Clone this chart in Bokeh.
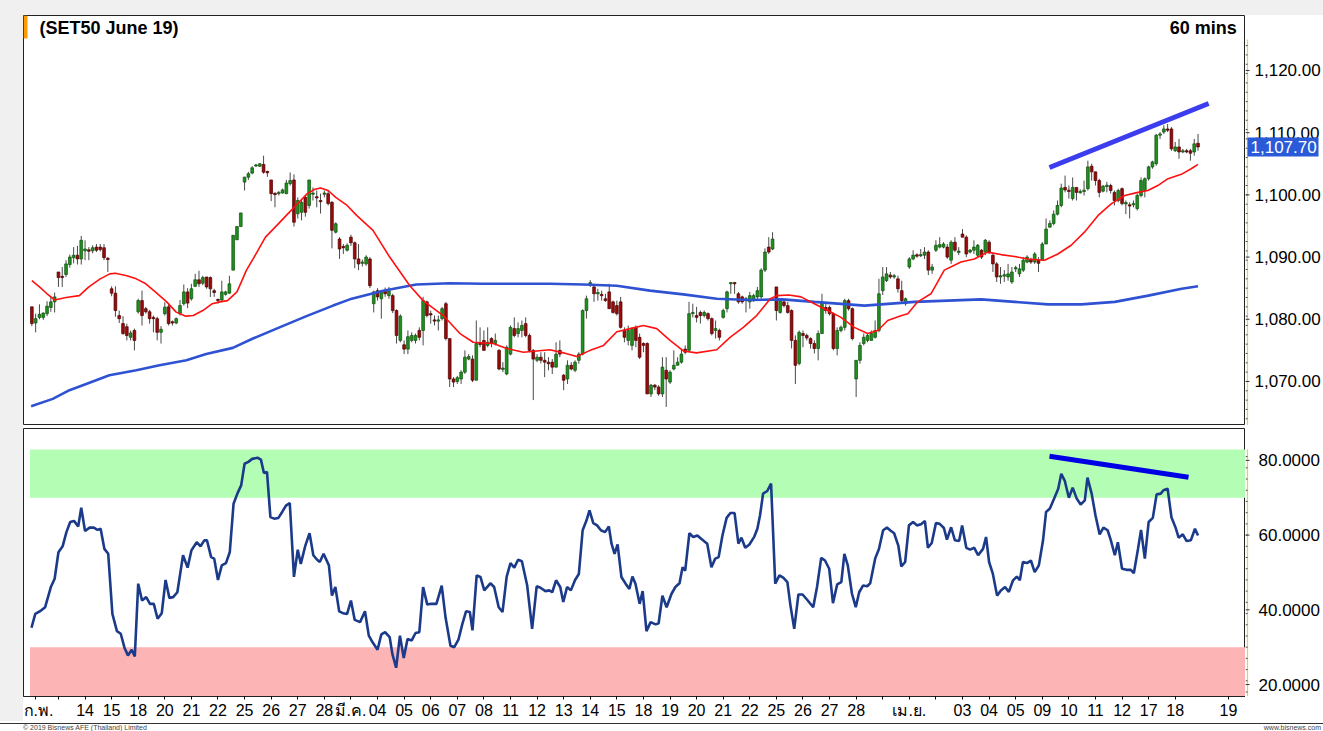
from bokeh.plotting import figure
from bokeh.models import Range1d, FixedTicker, Label, Div
from bokeh.layouts import column, row
from bokeh.embed import file_html
from bokeh.resources import INLINE
from bokeh.core.properties import value

FONT = "Liberation Sans"

# ---------------- data (60-min bars, SET50 June 19 futures) ----------------
opens = [1082.0,1079.4,1080.3,1080.3,1080.9,1081.9,1082.8,1087.6,1086.9,1087.2,1088.8,1089.9,1090.3,1089.7,
1091.0,1091.1,1091.0,1091.6,1091.6,1091.5,1089.8,1084.9,1084.2,1080.6,1079.3,1078.8,1077.1,1078.2,
1081.2,1083.0,1081.7,1081.2,1080.3,1080.1,1077.9,1080.9,1082.0,1079.6,1079.4,1080.9,1082.5,1084.4,
1083.3,1085.3,1086.35,1085.8,1086.8,1086.7,1084.6,1083.2,1083.1,1084.0,1084.2,1087.9,1092.8,1094.9,
1102.05,1102.85,1103.5,1104.7,1104.6,1104.9,1103.7,1102.4,1100.2,1100.2,1100.3,1100.2,1101.8,1102.4,
1096.96,1097.2,1099.6,1098.3,1100.1,1099.7,1099.1,1100.1,1100.2,1098.8,1094.0,1092.9,1091.7,1091.1,
1093.2,1092.3,1089.7,1089.0,1088.9,1089.7,1082.5,1084.6,1083.3,1084.6,1083.8,1083.8,1081.4,1076.6,
1075.9,1075.2,1076.6,1076.6,1078.2,1078.2,1082.8,1080.9,1079.9,1079.7,1080.1,1082.5,1076.9,1070.4,
1070.0,1070.4,1071.5,1073.6,1073.6,1070.2,1076.1,1076.6,1075.8,1076.9,1076.1,1075.0,1072.0,1071.2,
1074.4,1078.5,1077.7,1078.2,1079.3,1077.4,1075.0,1073.4,1073.9,1073.4,1073.1,1073.1,1072.3,1075.0,
1071.0,1070.4,1072.6,1071.8,1073.4,1074.4,1081.4,1085.7,1085.2,1084.1,1084.0,1083.3,1084.4,1082.8,
1082.2,1082.8,1078.2,1076.6,1075.8,1078.7,1077.1,1076.1,1076.1,1068.0,1069.4,1069.1,1068.0,1071.8,
1069.9,1072.0,1072.6,1073.1,1075.2,1075.0,1080.9,1080.6,1081.1,1080.6,1080.9,1080.1,1078.2,1078.2,
1080.3,1081.7,1085.7,1085.9,1084.1,1083.6,1083.0,1082.8,1083.0,1083.6,1083.6,1087.9,1091.6,1091.3,
1085.2,1081.1,1082.8,1082.2,1081.4,1076.6,1072.9,1077.7,1077.4,1076.9,1076.1,1075.3,1077.7,1081.9,
1081.9,1080.9,1075.3,1078.2,1078.7,1083.0,1081.7,1070.4,1073.4,1076.1,1076.6,1076.6,1077.1,1078.2,
1084.6,1086.2,1087.1,1086.8,1086.5,1084.6,1082.5,1088.4,1089.7,1090.3,1090.2,1090.3,1090.8,1087.9,
1091.1,1091.6,1091.6,1091.6,1089.5,1092.4,1090.8,1093.7,1093.2,1090.8,1091.1,1090.3,1091.1,1090.8,
1092.4,1090.3,1088.9,1086.8,1087.0,1086.8,1086.0,1088.1,1087.3,1087.9,1089.2,1089.6,1089.2,1089.5,
1089.5,1092.1,1094.8,1095.4,1096.9,1098.3,1101.2,1100.7,1099.4,1101.2,1100.4,1100.6,1101.0,1104.6,
1103.7,1102.3,1100.6,1101.4,1101.5,1100.4,1099.1,1101.0,1098.6,1098.4,1098.4,1097.8,1099.9,1100.7,
1102.6,1104.5,1105.0,1109.6,1110.1,1110.6,1110.6,1107.1,1107.7,1106.9,1107.1,1107.1,1106.9,1108.3]
highs = [1082.0,1080.9,1082.4,1081.1,1082.9,1083.6,1084.3,1087.6,1088.4,1089.5,1090.4,1091.6,1091.8,1093.4,
1092.7,1091.6,1091.9,1092.1,1092.1,1092.1,1090.0,1085.3,1085.3,1081.4,1080.5,1079.3,1078.2,1078.5,
1083.3,1084.6,1082.0,1081.5,1080.6,1080.4,1078.9,1082.75,1082.5,1079.8,1080.3,1083.1,1085.6,1085.0,
1085.7,1087.3,1087.8,1087.0,1086.8,1086.9,1084.9,1083.3,1086.2,1084.6,1087.0,1093.5,1095.0,1097.1,
1102.9,1103.7,1104.6,1105.0,1105.1,1106.3,1103.9,1102.4,1100.4,1100.6,1101.0,1102.4,1103.6,1103.3,
1099.6,1099.3,1100.0,1102.4,1101.2,1100.7,1100.2,1100.7,1100.7,1099.0,1095.6,1093.2,1092.1,1092.2,
1093.6,1092.5,1092.1,1089.6,1090.3,1090.0,1084.6,1085.0,1084.6,1085.1,1085.2,1084.1,1081.6,1080.8,
1076.6,1078.2,1077.9,1077.7,1078.7,1083.6,1083.0,1081.4,1080.6,1080.6,1082.0,1082.8,1076.9,1070.7,
1070.9,1071.8,1075.0,1074.4,1074.2,1079.8,1078.7,1078.2,1078.7,1077.1,1077.7,1075.2,1073.1,1075.8,
1079.0,1080.3,1079.5,1079.8,1080.3,1077.7,1075.2,1074.4,1074.7,1074.7,1073.9,1073.6,1076.3,1076.6,
1071.2,1073.4,1073.1,1073.4,1074.7,1081.6,1083.8,1086.3,1085.7,1084.9,1084.6,1084.1,1085.7,1083.0,
1083.0,1083.6,1078.7,1079.0,1078.7,1079.0,1077.7,1076.3,1076.3,1069.6,1069.6,1069.4,1073.9,1073.9,
1071.8,1075.0,1073.9,1075.2,1075.8,1082.8,1082.5,1082.0,1081.4,1081.4,1081.1,1080.3,1079.8,1078.5,
1081.7,1084.6,1086.0,1086.0,1084.4,1083.8,1083.6,1084.4,1084.1,1085.2,1088.2,1091.4,1093.2,1094.0,
1085.2,1083.3,1083.0,1082.8,1081.6,1077.4,1078.2,1078.2,1077.7,1077.1,1076.6,1078.2,1084.1,1082.5,
1082.2,1081.1,1078.7,1079.0,1083.3,1083.3,1081.9,1073.4,1076.3,1077.7,1077.7,1078.2,1079.8,1086.5,
1088.4,1088.4,1087.6,1087.3,1087.0,1086.2,1083.5,1090.0,1091.1,1090.6,1091.3,1091.6,1091.1,1088.9,
1092.7,1093.2,1092.4,1092.1,1092.7,1093.2,1091.6,1094.5,1093.5,1091.3,1092.7,1092.1,1091.3,1092.9,
1092.7,1090.5,1089.2,1088.4,1087.9,1088.9,1088.4,1088.6,1088.9,1090.0,1090.3,1089.9,1090.8,1090.0,
1092.4,1096.2,1095.9,1097.5,1099.1,1101.8,1103.1,1101.5,1102.8,1101.2,1100.9,1102.3,1105.5,1105.0,
1103.7,1102.6,1101.6,1102.1,1101.8,1100.7,1101.0,1101.2,1099.1,1098.8,1099.1,1100.2,1102.8,1102.8,
1104.7,1105.5,1109.8,1110.1,1111.2,1111.4,1110.9,1108.5,1109.0,1107.4,1107.4,1107.4,1109.0,1109.8]
lows = [1078.9,1077.9,1080.0,1079.9,1080.5,1081.2,1081.1,1085.2,1085.2,1086.8,1088.3,1089.0,1088.8,1088.8,
1089.5,1089.5,1090.6,1090.8,1090.9,1089.5,1087.6,1083.7,1080.4,1079.4,1077.5,1076.6,1076.6,1075.0,
1080.9,1079.0,1080.9,1079.3,1077.9,1076.6,1076.1,1080.6,1079.0,1079.0,1079.2,1080.6,1082.2,1081.8,
1083.0,1085.2,1085.2,1085.5,1084.9,1083.6,1083.6,1082.5,1082.9,1083.8,1084.1,1087.9,1092.7,1094.9,
1100.7,1102.4,1103.3,1104.5,1104.5,1103.4,1102.9,1099.0,1098.0,1099.9,1100.2,1100.1,1101.5,1094.9,
1096.2,1095.9,1096.5,1097.8,1099.1,1098.0,1097.0,1099.6,1098.3,1091.4,1093.8,1089.7,1090.5,1090.9,
1091.8,1088.2,1087.9,1088.5,1088.6,1085.0,1081.1,1083.0,1080.1,1083.6,1083.3,1081.0,1076.1,1076.3,
1074.4,1074.4,1076.3,1076.1,1076.6,1075.8,1080.3,1079.3,1079.0,1078.2,1079.8,1076.6,1069.1,1069.1,
1069.6,1069.6,1071.2,1073.4,1069.9,1070.2,1075.5,1075.0,1075.5,1075.5,1075.8,1071.8,1071.5,1071.0,
1074.2,1077.1,1077.1,1077.1,1077.1,1074.7,1067.0,1073.1,1072.9,1070.7,1071.8,1071.2,1072.3,1073.9,
1068.6,1069.6,1071.8,1071.5,1072.85,1074.2,1080.1,1085.2,1082.8,1083.0,1083.0,1082.8,1081.7,1080.9,
1080.6,1078.5,1076.3,1075.8,1075.0,1075.5,1073.6,1074.7,1068.0,1067.5,1068.6,1067.7,1067.5,1065.9,
1069.6,1071.8,1072.6,1072.85,1074.4,1075.0,1080.3,1079.5,1079.3,1080.3,1079.8,1077.4,1076.9,1076.6,
1080.1,1081.1,1084.1,1084.1,1082.5,1082.5,1081.1,1081.7,1082.8,1083.0,1083.3,1087.6,1090.5,1091.1,
1079.8,1080.9,1081.9,1080.9,1075.3,1069.6,1072.6,1075.5,1076.6,1075.3,1074.5,1073.4,1077.7,1080.9,
1080.6,1075.0,1074.2,1077.9,1078.2,1081.4,1076.6,1067.5,1072.85,1075.8,1076.3,1076.6,1076.9,1077.9,
1083.9,1086.0,1086.5,1086.5,1084.3,1082.5,1082.2,1088.1,1089.5,1089.9,1090.0,1089.7,1087.1,1087.3,
1090.8,1091.4,1091.4,1089.7,1088.9,1090.8,1090.3,1093.2,1090.0,1090.6,1090.5,1090.0,1089.7,1090.3,
1090.5,1087.6,1086.0,1085.7,1086.0,1086.2,1085.7,1087.6,1086.8,1087.6,1089.0,1088.9,1088.9,1087.6,
1089.5,1092.1,1094.8,1095.1,1096.7,1098.0,1100.4,1099.4,1099.1,1099.1,1100.2,1099.9,1100.7,1102.3,
1101.5,1099.6,1100.4,1100.4,1100.2,1098.3,1098.8,1098.3,1096.9,1096.2,1098.0,1097.5,1099.6,1099.6,
1102.3,1104.2,1104.7,1109.0,1109.8,1110.1,1107.1,1106.9,1105.8,1106.7,1106.7,1105.5,1106.3,1107.1]
closes = [1079.3,1080.1,1080.8,1081.0,1082.1,1082.8,1083.6,1086.7,1086.7,1088.9,1090.0,1090.3,1089.7,1092.7,
1091.3,1091.0,1091.5,1091.1,1091.2,1089.9,1089.6,1084.2,1081.4,1080.1,1077.7,1077.4,1077.8,1076.6,
1083.0,1080.6,1081.2,1080.1,1080.1,1077.9,1078.4,1081.95,1079.3,1079.4,1080.1,1082.2,1084.4,1082.6,
1084.9,1086.35,1085.7,1086.7,1085.2,1084.9,1084.3,1083.0,1084.4,1084.4,1085.7,1093.5,1094.9,1097.1,
1102.85,1103.4,1104.35,1104.75,1105.0,1103.65,1103.6,1100.2,1100.1,1100.4,1100.8,1101.9,1102.3,1095.6,
1099.1,1098.8,1097.2,1102.4,1100.3,1099.5,1098.9,1100.3,1098.6,1094.3,1095.35,1091.3,1091.5,1091.9,
1092.3,1089.7,1088.9,1089.2,1090.0,1085.4,1084.4,1083.6,1084.4,1084.1,1084.5,1081.4,1077.4,1080.5,
1075.2,1077.2,1077.4,1077.4,1077.1,1083.0,1080.6,1080.7,1079.7,1079.9,1081.7,1076.9,1070.4,1069.9,
1070.6,1071.5,1073.9,1074.0,1070.2,1076.1,1076.0,1075.0,1076.3,1076.1,1076.6,1072.0,1072.1,1075.5,
1078.7,1077.4,1078.5,1079.0,1077.4,1075.0,1073.6,1073.9,1073.4,1073.1,1072.85,1072.3,1074.4,1074.4,
1070.2,1072.6,1072.0,1073.1,1074.4,1081.4,1083.3,1085.9,1084.1,1084.3,1083.8,1083.0,1081.7,1081.1,
1080.9,1078.7,1077.1,1078.2,1078.5,1076.6,1073.9,1075.8,1068.0,1069.4,1069.1,1068.0,1072.3,1070.4,
1071.5,1072.6,1073.1,1074.4,1074.7,1080.9,1081.1,1080.3,1080.6,1081.1,1080.1,1077.7,1078.5,1077.1,
1081.4,1084.4,1085.9,1085.7,1082.8,1082.8,1083.3,1083.8,1083.8,1084.6,1087.9,1090.8,1090.8,1092.9,
1081.4,1083.0,1082.2,1081.1,1076.6,1072.6,1077.9,1077.4,1077.0,1076.1,1075.3,1077.7,1082.8,1081.4,
1080.9,1075.3,1078.2,1078.7,1083.0,1081.7,1076.9,1073.4,1075.8,1077.1,1077.4,1077.7,1078.2,1084.1,
1086.8,1087.3,1086.8,1087.0,1084.9,1083.0,1083.3,1089.7,1090.3,1090.2,1090.4,1090.8,1087.9,1088.4,
1091.9,1092.0,1092.1,1090.0,1092.4,1091.1,1090.9,1093.2,1090.5,1091.1,1091.6,1091.9,1090.0,1092.7,
1090.8,1088.9,1086.8,1087.0,1087.1,1087.3,1087.6,1088.3,1088.1,1089.5,1090.0,1089.2,1090.5,1089.0,
1092.1,1094.5,1095.4,1096.9,1098.3,1101.1,1100.8,1100.6,1101.2,1100.4,1100.5,1100.7,1104.5,1103.7,
1102.3,1100.4,1101.4,1101.5,1100.7,1099.1,1100.7,1098.6,1098.7,1098.2,1098.6,1099.9,1102.3,1102.6,
1104.5,1105.3,1109.6,1109.8,1110.6,1110.4,1107.4,1107.7,1106.9,1107.1,1106.9,1106.7,1108.2,1107.7]

# moving averages (bar position, value)
ma_fast_x = [0,2,4,6,9,12.5,15,18,20.5,22,25,27.5,30,32.5,35.5,38,40.5,42.5,45,47.5,49.5,51.5,54,56.5,59,61.5,
             64.5,67,69.5,72.5,74.5,76,78,80,83,85.5,89.8,94.2,99.5,103,108.3,112.7,116.2,121.5,125,129.4,132.9,
             136.4,139.9,143.4,147,150.5,154,157.5,161,164.5,168,171.5,175,180.3,183.8,187.3,190.8,194.4,196.1,
             199.3,202.5,206,209.5,213,216.5,220,222.7,225.3,229,230.6,233.2,236.7,240.2,244.6,248.1,251.6,255.1,
             258.7,262.2,266.6,270.1,273.6,277.1,280.7,284.2,287.7,291.2,293.8,296.4,299.1,302.6,305.2,307]
ma_fast_v = [1086.2,1085.2,1084.1,1083.1,1083.5,1083.8,1085.2,1086.5,1087.3,1087.4,1087.0,1086.5,1085.7,1084.4,
             1082.8,1081.15,1080.5,1080.6,1081.4,1082.5,1082.8,1083.0,1084.4,1087.9,1090.5,1093.2,1095.1,1096.7,
             1098.3,1100.2,1100.9,1101.1,1100.7,1099.6,1098.3,1096.7,1094.3,1090.0,1085.4,1083.0,1080.6,1077.7,
             1076.3,1076.1,1075.3,1074.7,1074.9,1075.1,1074.6,1074.0,1075.0,1075.8,1078.0,1078.5,1079.0,1078.5,
             1076.6,1074.9,1074.6,1075.1,1077.1,1078.7,1080.6,1083.3,1083.8,1083.9,1083.6,1082.5,1081.4,1080.3,
             1078.7,1077.7,1078.2,1079.8,1080.6,1080.9,1082.8,1084.1,1087.9,1089.2,1089.7,1090.8,1090.4,1090.1,
             1089.7,1089.5,1090.5,1091.9,1094.0,1096.7,1098.6,1099.9,1100.4,1100.7,1101.5,1102.6,1103.3,1104.2,1104.9]
ma_slow_x = [-0.2,5.5,9.9,14.3,20.4,27.5,33.6,40.7,45.9,52.9,58.2,65.2,72.3,79.3,83.7,92.5,101.2,110,118.8,127.5,
             136.4,145.2,154,162.7,171.5,180.3,189.1,197.5,206,219.2,232.4,249.9,258.7,267.5,276.3,285.1,293.9,302.7,307]
ma_slow_v = [1066.0,1067.2,1068.6,1069.6,1071.0,1071.8,1072.6,1073.4,1074.4,1075.4,1076.9,1078.7,1080.5,1082.2,
             1083.2,1084.6,1085.6,1085.8,1085.7,1085.7,1085.7,1085.6,1085.4,1084.6,1084.0,1083.3,1083.1,1083.2,
             1082.8,1082.2,1082.8,1083.2,1082.8,1082.4,1082.4,1082.8,1083.8,1084.9,1085.3]

rsi_x = [-0.1,0.9,2.4,3.5,5.0,6.0,7.0,8.1,9.1,10.1,11.1,12.2,13.0,14.0,15.2,16.3,17.3,18.1,19.1,20.1,21.2,22.4,23.4,
         24.4,25.3,26.3,27.1,28.0,29.0,30.1,31.1,32.1,33.1,34.2,35.2,36.2,37.2,38.3,39.8,41.0,42.0,43.4,44.4,45.4,
         46.1,47.2,48.0,49.0,50.0,51.1,52.1,53.1,54.1,55.1,56.0,57.0,58.0,59.4,60.3,61.1,61.9,62.8,63.8,64.9,65.9,
         66.9,67.9,69.0,70.0,70.8,72.0,73.1,74.1,75.1,75.8,76.8,78.2,79.0,79.9,80.9,81.9,83.0,84.0,85.0,86.4,87.7,
         88.7,89.7,91.0,92.0,93.0,94.2,94.9,95.9,96.9,97.9,98.9,100.0,101.0,102.0,103.0,104.1,105.1,106.5,107.9,
         108.9,110.2,111.2,112.3,113.3,114.3,115.3,116.0,117.1,118.1,119.1,120.7,121.7,122.9,123.9,125.0,126.0,
         127.0,128.0,129.0,130.4,131.7,132.9,133.9,135.2,136.2,137.0,138.0,139.1,139.9,140.9,141.9,143.0,144.0,
         145.0,146.0,146.8,147.8,148.8,149.8,150.9,151.9,152.6,153.4,154.2,155.2,156.3,157.3,158.1,158.9,160.0,
         160.8,161.8,162.9,164.2,165.0,166.0,167.1,168.4,169.4,170.5,171.3,172.0,173.1,174.1,175.2,176.2,177.8,
         178.9,179.9,180.8,181.8,182.9,183.9,185.0,186.0,186.8,187.8,188.9,190.2,191.0,191.7,192.5,193.6,194.6,
         195.7,196.8,197.8,198.9,199.7,200.7,201.8,202.9,204.1,205.7,206.7,207.8,208.8,209.9,210.9,212.0,213.1,
         213.9,214.8,215.9,216.9,217.8,218.8,219.9,220.7,222.0,223.0,224.1,225.1,226.2,227.0,228.1,228.9,229.9,
         230.9,232.0,233.0,234.1,235.1,235.9,236.9,238.0,239.0,240.1,240.9,242.0,243.0,244.1,244.9,246.0,247.0,
         248.1,249.1,250.4,251.2,252.0,253.0,254.1,255.1,256.2,257.2,258.3,259.3,260.1,260.9,262.0,263.0,264.0,
         265.1,266.2,267.0,268.0,269.1,270.2,271.0,271.9,273.0,274.0,275.1,276.1,277.2,277.9,279.0,280.0,281.1,
         282.1,283.2,284.0,285.1,285.9,287.0,288.2,289.3,290.1,291.2,292.0,293.0,294.0,295.1,296.1,297.2,297.9,
         299.0,300.0,301.1,301.9,303.0,304.0,305.1,306.2,307.0]
rsi_v = [35.2,38.9,39.8,40.7,46.1,48.3,55.4,57.0,60.8,63.5,63.8,62.3,67.3,61.1,62.0,62.0,61.4,61.7,56.3,55.0,38.9,34.3,
         33.6,29.8,27.8,29.3,27.5,47.0,42.5,43.4,41.6,41.6,37.6,39.1,48.0,43.2,43.4,44.7,54.6,51.3,55.9,58.1,57.0,58.6,
         58.6,54.1,53.7,48.0,51.9,52.5,55.4,68.4,71.1,73.3,79.1,79.6,80.4,80.7,80.2,76.6,76.9,64.8,64.4,64.6,66.2,
         67.9,68.6,48.8,56.1,52.3,57.2,60.5,54.6,53.4,52.8,55.0,51.9,43.8,46.1,39.6,39.1,38.9,42.5,37.3,36.7,39.6,
         33.1,31.3,29.3,33.4,34.0,32.7,28.2,24.5,33.1,27.1,32.2,31.8,33.8,34.0,46.1,41.4,41.6,41.6,46.5,38.0,30.4,
         30.0,32.0,36.1,39.6,39.4,34.5,49.2,48.8,45.2,47.1,46.1,40.7,39.4,48.9,52.5,51.3,53.4,53.0,46.5,34.9,46.3,
         45.9,45.0,45.2,44.7,47.9,46.1,42.1,46.1,45.2,48.0,49.6,61.3,63.9,66.6,63.2,62.6,61.3,60.8,62.3,57.7,55.0,
         57.5,48.8,47.0,45.6,48.9,47.0,41.6,45.0,34.3,36.7,36.1,36.4,43.8,40.7,44.3,46.1,47.1,51.4,50.5,60.5,59.5,
         59.9,59.0,57.7,51.4,53.7,54.1,59.9,64.6,65.9,65.9,57.7,59.3,56.6,57.5,59.6,61.7,65.3,71.1,71.8,73.8,47.0,
         49.2,48.6,47.4,41.2,34.9,44.1,44.1,42.7,40.7,46.1,53.9,53.2,51.0,41.8,46.8,47.4,55.0,51.9,44.3,40.7,44.7,
         46.5,46.3,47.1,53.7,56.3,61.3,62.0,61.1,60.5,57.2,51.6,52.8,62.6,63.5,62.6,62.9,63.8,56.6,57.9,63.2,63.0,
         61.9,58.8,62.1,58.6,58.4,62.6,56.6,56.1,56.6,54.6,56.3,59.5,52.8,49.6,43.8,45.2,46.1,44.8,47.9,48.9,47.9,
         52.8,52.5,53.2,50.1,51.9,58.6,66.2,67.1,69.7,72.4,76.4,74.6,70.0,72.7,69.7,68.2,69.3,75.4,71.1,65.3,60.2,
         62.0,61.3,58.8,54.6,58.1,51.0,50.7,50.7,49.8,56.3,61.4,53.7,63.5,64.6,70.9,71.1,72.0,72.4,64.8,62.0,59.3,
         60.2,58.4,58.6,61.7,59.9]

# date axis: first bar of each trading day
tick_pos = [1, 7, 14, 21, 28, 35, 42, 49, 56, 63, 70, 77, 84, 91, 98, 105, 112, 119, 126, 133, 140, 147, 154,
            161, 168, 175, 182, 189, 196, 203, 210, 217, 224, 231, 238, 245, 252, 259, 266, 273, 280, 287, 294,
            301, 315]
tick_labels = ["ก.พ.", "", "14", "15", "18", "20", "21", "22", "25", "26", "27", "28", "มี.ค.", "04", "05", "06",
               "07", "08", "11", "12", "13", "14", "15", "18", "19", "20", "21", "22", "25", "26", "27", "28", "",
               "เม.ย.", "", "03", "04", "05", "09", "10", "11", "12", "17", "18", "19"]

price_ticks = [1070, 1080, 1090, 1100, 1110, 1120]
rsi_ticks = [20, 40, 60, 80]
overbought_zone = [70, 82.9]
oversold_zone = [16.8, 30]
last_price = 1107.70

# hand-drawn divergence lines
trend_price_x = [267.9, 309.8]
trend_price_v = [1104.4, 1114.7]
trend_rsi_x = [267.9, 304.5]
trend_rsi_v = [81.1, 75.5]

# ---------------- figures ----------------
X0, X1 = -2.2, 319.5
xr = Range1d(X0, X1)
P_LO, P_HI = 1062.92, 1128.84
R_LO, R_HI = 16.8, 88.53
pyr = Range1d(P_LO, P_HI)
ryr = Range1d(R_LO, R_HI)

common = dict(output_backend="svg", toolbar_location=None, min_border_left=0, min_border_right=0)

p = figure(width=1222, height=410, x_range=xr, y_range=pyr, x_axis_location=None, y_axis_location=None,
           min_border_top=0, min_border_bottom=0, **common)
b = figure(width=1222, height=296, x_range=xr, y_range=ryr, y_axis_location=None,
           min_border_top=3, min_border_bottom=24, **common)
# right-hand scale panels
pa = figure(width=78, height=410, x_range=Range1d(0, 78), y_range=pyr, x_axis_location=None,
            y_axis_location=None, min_border_top=0, min_border_bottom=0, **common)
ba = figure(width=78, height=296, x_range=Range1d(0, 78), y_range=ryr, x_axis_location=None,
            y_axis_location=None, min_border_top=3, min_border_bottom=24, **common)

for f in (p, b, pa, ba):
    f.grid.visible = False
    f.background_fill_color = "white"
    f.border_fill_color = "white"
for f in (p, b):
    f.outline_line_color = "#222222"
    f.outline_line_width = 1
for f in (pa, ba):
    f.outline_line_color = None

xa = b.xaxis[0]
xa.ticker = FixedTicker(ticks=tick_pos, minor_ticks=[])
xa.major_label_overrides = {t: lab for t, lab in zip(tick_pos, tick_labels)}
xa.major_label_text_font = FONT
xa.major_label_text_font_size = "16px"
xa.major_label_text_color = "black"
xa.major_tick_in = 0
xa.major_tick_out = 3
xa.major_label_standoff = 2
xa.axis_line_color = "#222222"

# ---------------- candles ----------------
n = len(closes)
xs = list(range(n))
tops, bots, fills, edges = [], [], [], []
for o, c in zip(opens, closes):
    t, bt = max(o, c), min(o, c)
    if t - bt < 0.12:
        t += 0.06
        bt -= 0.06
    tops.append(t)
    bots.append(bt)
    if c >= o:
        fills.append("#1f8f1f"); edges.append("#0d4f0d")
    else:
        fills.append("#9b0a0a"); edges.append("#4a0000")

p.segment(x0=xs, y0=lows, x1=xs, y1=highs, line_color="#4a4a4a", line_width=1)
p.vbar(x=xs, width=0.72, top=tops, bottom=bots, fill_color=fills, line_color=edges, line_width=0.7)

p.line(ma_slow_x, ma_slow_v, line_color="#2f52d3", line_width=2.6)
p.line(ma_fast_x, ma_fast_v, line_color="#ff1111", line_width=1.6)
p.line(trend_price_x, trend_price_v, line_color="#3d3df0", line_width=5)

# small orange marker in the top-left corner of the chart
p.quad(left=[X0], right=[X0 + 1.05], top=[P_HI], bottom=[P_HI - 3.7], fill_color="#ff9a00", line_color=None)

p.add_layout(Label(x=2.0, y=1126.75, text="(SET50 June 19)", text_font=FONT, text_font_style="bold",
                   text_font_size="18px", text_baseline="middle", text_color="black"))
p.add_layout(Label(x=317.2, y=1126.75, text="60 mins", text_font=FONT, text_font_style="bold",
                   text_font_size="18px", text_baseline="middle", text_align="right", text_color="black"))

# ---------------- RSI panel ----------------
b.quad(left=[-0.5, -0.5], right=[X1, X1], bottom=[overbought_zone[0], oversold_zone[0]],
       top=[overbought_zone[1], oversold_zone[1]], fill_color=["#b4fdb4", "#fdb4b4"], line_color=None)
b.line(rsi_x, rsi_v, line_color="#1b3a8a", line_width=2.6)
b.line(trend_rsi_x, trend_rsi_v, line_color="#0000e4", line_width=5)

# ---------------- right-hand scales ----------------
AXIS_COL = "#e6c878"
# price scale
pa.segment(x0=[2], y0=[P_LO], x1=[2], y1=[1125.0], line_color=AXIS_COL, line_width=1.2)
p_minor = [v / 2 for v in range(2128, 2250, 3)]
pa.segment(x0=[0] * len(p_minor), y0=p_minor, x1=[2] * len(p_minor), y1=p_minor, line_color="#444444", line_width=1)
pa.segment(x0=[0] * len(price_ticks), y0=price_ticks, x1=[4] * len(price_ticks), y1=price_ticks,
           line_color="#333333", line_width=1)
pa.text(x=[9] * len(price_ticks), y=price_ticks, text=[f"{v:,.2f}" for v in price_ticks],
        text_font=value(FONT), text_font_size=value("17px"), text_baseline="middle", text_color="black")
pa.quad(left=[2], right=[73], top=[last_price + 1.53], bottom=[last_price - 1.53],
        fill_color="#2a5ad8", line_color=None)
pa.text(x=[5], y=[last_price], text=[f"{last_price:,.2f}"], text_font=value(FONT),
        text_font_size=value("17px"), text_baseline="middle", text_color="white")
# RSI scale
ba.segment(x0=[2], y0=[R_LO], x1=[2], y1=[83.0], line_color=AXIS_COL, line_width=1.2)
r_minor = list(range(18, 84, 3))
ba.segment(x0=[0] * len(r_minor), y0=r_minor, x1=[2] * len(r_minor), y1=r_minor, line_color="#444444", line_width=1)
ba.segment(x0=[0] * len(rsi_ticks), y0=rsi_ticks, x1=[4] * len(rsi_ticks), y1=rsi_ticks,
           line_color="#333333", line_width=1)
ba.text(x=[13] * len(rsi_ticks), y=rsi_ticks, text=[f"{v:.4f}" for v in rsi_ticks],
        text_font=value(FONT), text_font_size=value("17px"), text_baseline="middle", text_color="black")

# ---------------- page layout ----------------
GRAY = "#f0f0f0"
top_bar = Div(text="", width=1323, height=15, margin=0, styles={"background-color": GRAY})
left_bar = Div(text="", width=23, height=706, margin=0, styles={"background-color": GRAY})
footer = Div(text=(
    '<div style="position:relative;width:1323px;height:10px;overflow:hidden;'
    'font-family:\'Liberation Sans\',Arial,sans-serif;font-size:7px;line-height:8px;color:#444;">'
    '<div style="position:absolute;left:0;top:0;width:1323px;height:1px;background:#333;"></div>'
    '<span style="position:absolute;left:23px;top:1px;">© 2019 Bisnews AFE (Thailand) Limited</span>'
    '<span style="position:absolute;right:2px;top:1px;">www.bisnews.com</span></div>'),
    width=1323, height=10, margin=0)

charts = column(row(p, pa, spacing=0), row(b, ba, spacing=0), spacing=0)
layout = column(top_bar, row(left_bar, charts, spacing=0), footer, spacing=0)

open("out.html", "w").write(file_html(layout, INLINE))
